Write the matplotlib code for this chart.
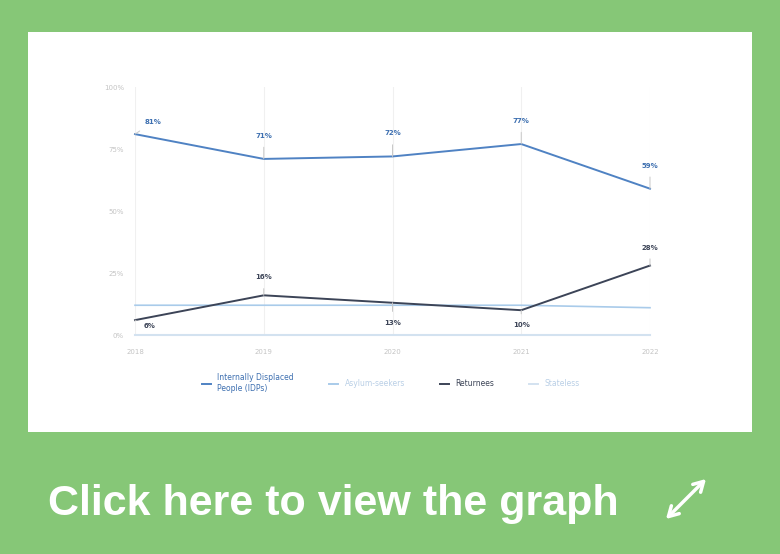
import matplotlib
matplotlib.use("Agg")
import matplotlib.pyplot as plt
from matplotlib.patches import Rectangle, FancyArrowPatch
from matplotlib.lines import Line2D

years = [2018, 2019, 2020, 2021, 2022]
idps = [81, 71, 72, 77, 59]
asylum = [12, 12, 12, 12, 11]
returnees = [6, 16, 13, 10, 28]
stateless = [0, 0, 0, 0, 0]
yticks = [0, 25, 50, 75, 100]
ytick_labels = ["0%", "25%", "50%", "75%", "100%"]
series_names = ["Internally Displaced\nPeople (IDPs)", "Asylum-seekers", "Returnees", "Stateless"]
banner_text = "Click here to view the graph"

C_IDP = "#4f82c3"
C_IDP_LBL = "#3d6fb0"
C_ASY = "#a9cbea"
C_RET = "#3c4457"
C_STA = "#d3e2f0"
GREEN = "#86c777"

W, H = 780, 554
fig = plt.figure(figsize=(W / 100, H / 100), dpi=100)
fig.patch.set_facecolor(GREEN)
fig.patches.append(Rectangle((28 / W, 1 - 432 / H), (752 - 28) / W, (432 - 32) / H,
                             transform=fig.transFigure, facecolor="white", edgecolor="none", zorder=-5))

ax = fig.add_axes([135 / W, 1 - 335 / H, (650 - 135) / W, (335 - 87) / H])
ax.set_zorder(2)
ax.set_facecolor("none")
ax.set_xlim(years[0], years[-1])
ax.set_ylim(0, 100)
for s in ax.spines.values():
    s.set_visible(False)
for yr in years:
    ax.axvline(yr, color="#f0f0f0", lw=0.8, zorder=0)
ax.set_yticks(yticks)
ax.set_yticklabels(ytick_labels)
ax.set_xticks(years)
ax.set_xticklabels([str(y) for y in years])
ax.tick_params(length=0, labelsize=5, colors="#c4c4c4", pad=10)
ax.tick_params(axis="y", pad=8)

ax.plot(years, stateless, color=C_STA, lw=1.5, clip_on=False, zorder=2)
ax.plot(years, asylum, color=C_ASY, lw=1.2, clip_on=False, zorder=3)
ax.plot(years, returnees, color=C_RET, lw=1.4, clip_on=False, zorder=4)
ax.plot(years, idps, color=C_IDP, lw=1.4, clip_on=False, zorder=4)

def lab(x, y, v, dx, dy, color):
    ax.annotate(f"{v}%", xy=(x, y), xytext=(dx, dy), textcoords="offset pixels",
                ha="center", va="center", fontsize=5, fontweight="bold", color=color,
                arrowprops=dict(arrowstyle="-", color="#c8c8c8", lw=0.7, shrinkA=4, shrinkB=0),
                annotation_clip=False, zorder=6)

idp_off = [(18, 12), (0, 23), (0, 23), (0, 23), (0, 23)]
for x, v, (dx, dy) in zip(years, idps, idp_off):
    lab(x, v, v, dx, dy, C_IDP_LBL)
ret_off = [(15, -6), (0, 18), (0, -20), (0, -15), (0, 18)]
for x, v, (dx, dy) in zip(years, returnees, ret_off):
    lab(x, v, v, dx, dy, C_RET)

handles = [Line2D([], [], color=c, lw=1.4) for c in [C_IDP, C_ASY, C_RET, C_STA]]
leg = fig.legend(handles, series_names, loc="center", bbox_to_anchor=(391 / W, 1 - 383 / H),
                 ncol=4, frameon=False, fontsize=5.5, handlelength=1.2, handletextpad=0.8,
                 columnspacing=4.6)
leg.set_zorder(3)
for t, c in zip(leg.get_texts(), [C_IDP_LBL, "#b9cfe6", C_RET, "#b9cfe6"]):
    t.set_color(c)

fig.text(48 / W, 1 - 504 / H, banner_text, ha="left", va="center", color="white",
         fontsize=31, fontweight="bold", family=["Liberation Sans", "DejaVu Sans"])

arrow = FancyArrowPatch((664 / W, 1 - 521 / H), (708 / W, 1 - 477 / H), transform=fig.transFigure,
                        arrowstyle="<->,head_length=7,head_width=4", color="white", lw=2.5,
                        mutation_scale=1)
fig.patches.append(arrow)

fig.savefig("out.png", dpi=100, facecolor=fig.get_facecolor())
